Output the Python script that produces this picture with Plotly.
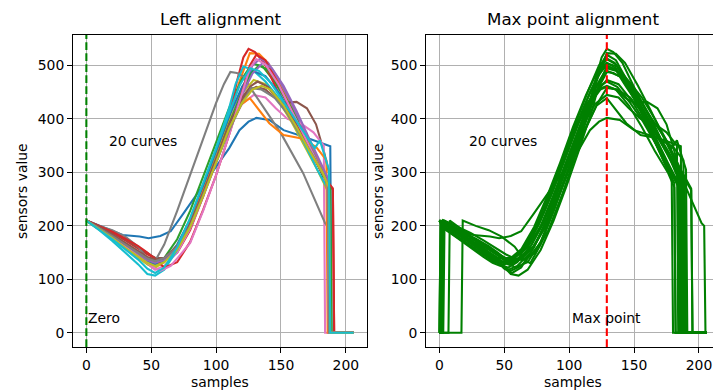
import plotly.graph_objects as go

# ---------------- data ----------------
curve_x = [
    [0, 10, 20, 28, 41, 48, 57, 65, 75, 88, 100, 110, 118, 125, 131, 141, 152, 167, 182, 188],
    [0, 10, 20, 30, 40, 47, 53, 60, 70, 80, 90, 100, 110, 118, 126, 133, 140, 150, 160, 170, 180, 186],
    [0, 10, 20, 30, 40, 47, 53, 60, 70, 80, 90, 100, 110, 120, 128, 136, 145, 155, 165, 175, 183, 187],
    [0, 10, 20, 30, 40, 47, 53, 60, 70, 80, 90, 100, 110, 116, 121, 125, 130, 137, 147, 157, 167, 177, 185, 190],
    [0, 10, 20, 30, 40, 47, 53, 60, 70, 80, 90, 100, 110, 120, 128, 134, 140, 148, 158, 168, 178, 186],
    [0, 10, 20, 30, 40, 47, 53, 60, 70, 80, 90, 100, 110, 120, 126, 131, 138, 145, 152, 162, 170, 177, 183, 187],
    [0, 10, 20, 30, 40, 47, 53, 60, 70, 80, 90, 100, 110, 120, 129, 138, 146, 155, 165, 175, 183],
    [0, 10, 20, 30, 40, 47, 52, 60, 70, 80, 90, 100, 106, 111, 116, 121, 126, 150, 167, 184, 186],
    [0, 10, 20, 30, 40, 47, 53, 60, 70, 80, 90, 100, 110, 120, 129, 138, 148, 158, 168, 178, 186],
    [0, 10, 20, 30, 40, 47, 53, 60, 70, 80, 90, 100, 110, 115, 121, 128, 138, 148, 158, 168, 178, 186],
    [0, 10, 20, 30, 40, 47, 53, 60, 70, 80, 90, 100, 110, 120, 128, 138, 148, 158, 168, 178, 186],
    [0, 10, 20, 30, 40, 47, 53, 60, 70, 80, 90, 100, 110, 118, 126, 141, 152, 165, 177, 185],
    [0, 10, 20, 30, 40, 47, 53, 60, 70, 80, 90, 100, 110, 120, 127, 133, 140, 148, 158, 168, 178, 188],
    [0, 10, 20, 30, 40, 47, 53, 60, 70, 80, 90, 100, 110, 120, 126, 131, 138, 147, 157, 167, 177, 185, 190],
    [0, 10, 20, 30, 40, 47, 53, 60, 70, 80, 90, 100, 110, 120, 128, 136, 143, 152, 162, 172, 182, 186],
    [0, 10, 20, 30, 40, 47, 53, 60, 70, 80, 90, 100, 110, 120, 127, 132, 140, 150, 160, 170, 180, 187],
    [0, 10, 20, 30, 40, 47, 53, 57, 65, 72, 80, 90, 100, 110, 120, 126, 131, 138, 148, 158, 168, 178, 186],
    [0, 10, 20, 30, 40, 47, 53, 60, 70, 80, 90, 100, 110, 120, 127, 135, 145, 155, 165, 175, 183, 186],
    [0, 10, 20, 30, 40, 47, 53, 60, 70, 80, 90, 100, 110, 120, 128, 135, 142, 152, 162, 172, 182, 187],
    [0, 10, 20, 30, 40, 47, 53, 60, 70, 80, 90, 100, 110, 118, 126, 133, 142, 152, 162, 170, 176, 180, 184, 187],
]
curve_y = [
    [210, 200, 190, 183, 180, 177, 181, 190, 224, 270, 311, 345, 379, 395, 402, 398, 379, 367, 355, 349],
    [210, 196, 182, 166, 150, 140, 134, 140, 162, 205, 265, 330, 400, 470, 523, 522, 505, 462, 415, 365, 315, 285],
    [210, 194, 178, 161, 145, 134, 130, 140, 175, 228, 292, 355, 420, 475, 504, 498, 470, 430, 385, 335, 290, 265],
    [210, 199, 187, 173, 158, 147, 140, 136, 150, 192, 255, 325, 405, 470, 515, 531, 525, 505, 454, 410, 361, 320, 285, 267],
    [210, 195, 179, 162, 145, 133, 128, 134, 158, 202, 262, 325, 392, 455, 500, 513, 505, 475, 430, 375, 320, 280],
    [210, 200, 189, 175, 160, 148, 140, 140, 160, 200, 258, 320, 385, 435, 455, 460, 455, 440, 430, 432, 420, 390, 340, 300],
    [210, 195, 178, 160, 142, 128, 118, 125, 150, 195, 255, 320, 385, 428, 445, 440, 420, 400, 392, 375, 350],
    [210, 200, 192, 180, 161, 138, 130, 165, 228, 295, 365, 430, 465, 488, 486, 479, 460, 373, 299, 205, 200],
    [210, 194, 176, 158, 140, 128, 122, 132, 160, 205, 265, 330, 395, 448, 473, 465, 435, 395, 350, 305, 265],
    [210, 192, 172, 150, 128, 110, 107, 118, 155, 210, 275, 345, 420, 465, 498, 492, 470, 440, 400, 355, 305, 270],
    [210, 195, 179, 162, 145, 133, 127, 136, 165, 212, 275, 340, 405, 460, 490, 480, 450, 410, 365, 318, 280],
    [210, 196, 180, 164, 148, 137, 132, 138, 162, 205, 265, 325, 385, 425, 439, 392, 370, 364, 348, 323],
    [210, 196, 181, 165, 149, 138, 133, 138, 160, 200, 258, 322, 390, 450, 485, 500, 492, 465, 420, 370, 318, 275],
    [210, 200, 189, 176, 162, 150, 138, 122, 132, 170, 230, 295, 370, 450, 500, 520, 510, 470, 420, 370, 320, 285, 270],
    [210, 196, 180, 163, 147, 136, 131, 136, 156, 198, 255, 318, 385, 445, 485, 505, 495, 462, 415, 362, 312, 290],
    [210, 198, 184, 168, 152, 142, 137, 140, 162, 205, 262, 325, 390, 440, 462, 470, 460, 430, 395, 352, 308, 275],
    [210, 195, 178, 160, 142, 130, 120, 116, 125, 145, 168, 228, 295, 370, 450, 495, 512, 502, 465, 418, 368, 318, 280],
    [210, 196, 181, 165, 149, 139, 134, 140, 160, 200, 258, 318, 378, 430, 458, 455, 440, 410, 370, 330, 295, 280],
    [210, 194, 177, 159, 142, 131, 125, 132, 155, 198, 255, 318, 382, 430, 455, 462, 455, 425, 385, 340, 300, 272],
    [210, 193, 175, 156, 137, 120, 112, 122, 160, 215, 280, 345, 410, 462, 495, 490, 468, 432, 395, 368, 345, 360, 330, 305],
]
LAST_SAMPLE = 206          # series are zero padded up to this sample
MAX_POINT = 129            # sample where maxima are aligned
tick_x = [0, 50, 100, 150, 200]
tick_y = [0, 100, 200, 300, 400, 500]

tab10 = ["#1f77b4", "#ff7f0e", "#2ca02c", "#d62728", "#9467bd",
         "#8c564b", "#e377c2", "#7f7f7f", "#bcbd22", "#17becf"]

FONT = "DejaVu Sans"
W, H = 713, 392
LW = 2.08

fig = go.Figure()

# left: raw curves, zero padded at the end
for i, (xs, ys) in enumerate(zip(curve_x, curve_y)):
    x = list(xs) + [xs[-1] + 1, LAST_SAMPLE]
    y = list(ys) + [0, 0]
    fig.add_trace(go.Scatter(x=x, y=y, mode="lines", xaxis="x", yaxis="y",
                             line=dict(color=tab10[i % 10], width=LW),
                             showlegend=False, hoverinfo="skip"))

# right: curves shifted so that their maximum is at MAX_POINT
for xs, ys in zip(curve_x, curve_y):
    peak_x = xs[ys.index(max(ys))]
    s = MAX_POINT - peak_x
    x, y = [], []
    if s > 0:
        x += [0, s - 1]
        y += [0, 0]
    for xv, yv in zip(xs, ys):
        nx = max(xv + s, 0)
        if nx <= LAST_SAMPLE:
            x.append(nx)
            y.append(yv)
    end = xs[-1] + 1 + s
    if end <= LAST_SAMPLE:
        x += [end, LAST_SAMPLE]
        y += [0, 0]
    fig.add_trace(go.Scatter(x=x, y=y, mode="lines", xaxis="x2", yaxis="y2",
                             line=dict(color="#008000", width=LW),
                             showlegend=False, hoverinfo="skip"))

# geometry (pixels -> paper fractions)
def px(v):
    return v / W

def py(v):
    return 1 - v / H

axis_common = dict(
    tickvals=tick_x, ticks="outside", ticklen=4.9, tickwidth=1.1, tickcolor="black",
    showgrid=True, gridcolor="#b0b0b0", gridwidth=1.1, zeroline=False,
    showline=True, linecolor="black", linewidth=1.1,
    tickfont=dict(family=FONT, size=13.9, color="black"),
)
yaxis_common = dict(axis_common)
yaxis_common["tickvals"] = tick_y

fig.update_layout(
    width=W, height=H, margin=dict(l=0, r=0, t=0, b=0),
    paper_bgcolor="white", plot_bgcolor="white",
    font=dict(family=FONT, color="black"),
    xaxis=dict(axis_common, domain=[px(73), px(367)], range=[-10.3, 216.3],
               mirror=True, anchor="y"),
    yaxis=dict(yaxis_common, domain=[py(347), py(35)], range=[-26.5, 557],
               mirror=True, anchor="x"),
    xaxis2=dict(axis_common, domain=[px(426), 1.0], range=[-10.3, 210.8],
                mirror=True, anchor="y2"),
    yaxis2=dict(yaxis_common, domain=[py(347), py(35)], range=[-26.5, 557],
                mirror=False, anchor="x2"),
    showlegend=False,
)

fig.add_shape(type="line", xref="x", yref="y domain", x0=0, x1=0, y0=0, y1=1,
              line=dict(color="#008000", width=LW, dash="7.7px,3.3px"))
fig.add_shape(type="line", xref="x2", yref="y2 domain", x0=MAX_POINT, x1=MAX_POINT,
              y0=0, y1=1, line=dict(color="#ff0000", width=LW, dash="7.7px,3.3px"))

ann_font = dict(family=FONT, size=13.9, color="black")
annotations = [
    dict(text="Left alignment", x=px(220), y=py(19), xref="paper", yref="paper",
         font=dict(family=FONT, size=16.7, color="black")),
    dict(text="Max point alignment", x=px(573), y=py(19), xref="paper", yref="paper",
         font=dict(family=FONT, size=16.7, color="black")),
    dict(text="samples", x=px(220), y=py(382), xref="paper", yref="paper", font=ann_font),
    dict(text="samples", x=px(573), y=py(382), xref="paper", yref="paper", font=ann_font),
    dict(text="sensors value", x=px(22), y=py(191), xref="paper", yref="paper",
         textangle=-90, font=ann_font),
    dict(text="sensors value", x=px(378), y=py(191), xref="paper", yref="paper",
         textangle=-90, font=ann_font),
    dict(text="20 curves", x=16, y=359, xref="x", yref="y", xanchor="left", font=ann_font),
    dict(text="Zero", x=0, y=28, xref="x", yref="y", xanchor="left", font=ann_font),
    dict(text="20 curves", x=21, y=359, xref="x2", yref="y2", xanchor="left", font=ann_font),
    dict(text="Max point", x=101, y=28, xref="x2", yref="y2", xanchor="left", font=ann_font),
]
for a in annotations:
    a.setdefault("showarrow", False)
    a.setdefault("xanchor", "center")
    a.setdefault("yanchor", "middle")
    fig.add_annotation(**a)

fig.write_html("out.html", config={"displayModeBar": False},
               post_script="document.body.style.margin='0';document.body.style.overflow='hidden';")
